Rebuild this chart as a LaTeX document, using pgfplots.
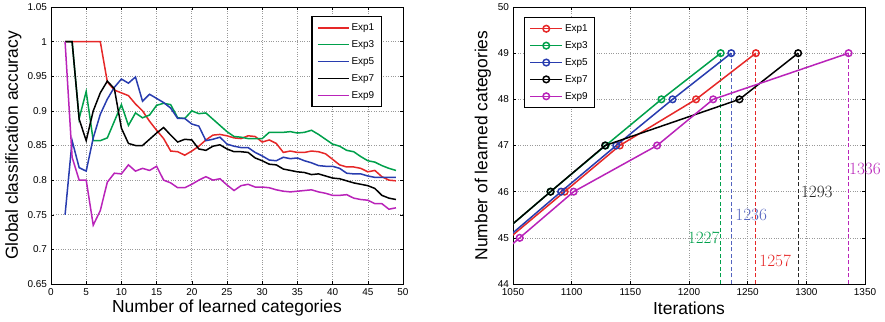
\documentclass[border=0pt]{standalone}
\usepackage{pgfplots}
\pgfplotsset{compat=1.18}
\usepackage{pgfplotstable}
\usepackage{fontspec}
\setmainfont{Liberation Sans}
\definecolor{cR}{RGB}{230,40,40}
\definecolor{cG}{RGB}{0,160,75}
\definecolor{cB}{RGB}{40,60,175}
\definecolor{cK}{RGB}{0,0,0}
\definecolor{cM}{RGB}{185,35,185}

\pgfplotstableread{
x e1 e3 e5 e7 e9
2 1.000 1.000 0.750 1.000 1.000
3 1.000 1.000 0.857 1.000 0.833
4 1.000 0.889 0.818 0.888 0.800
5 1.000 0.928 0.813 0.857 0.800
6 1.000 0.857 0.861 0.900 0.735
7 1.000 0.857 0.895 0.926 0.756
8 0.942 0.861 0.917 0.943 0.797
9 0.930 0.885 0.934 0.932 0.810
10 0.926 0.909 0.946 0.875 0.809
11 0.922 0.879 0.940 0.853 0.822
12 0.910 0.897 0.949 0.850 0.813
13 0.900 0.890 0.914 0.850 0.817
14 0.885 0.894 0.924 0.859 0.814
15 0.872 0.908 0.918 0.868 0.820
16 0.860 0.911 0.912 0.876 0.800
17 0.842 0.909 0.904 0.865 0.796
18 0.841 0.890 0.889 0.855 0.789
19 0.836 0.889 0.889 0.859 0.789
20 0.842 0.900 0.881 0.858 0.794
21 0.849 0.896 0.878 0.845 0.800
22 0.858 0.897 0.857 0.843 0.805
23 0.865 0.888 0.859 0.849 0.800
24 0.866 0.879 0.862 0.851 0.802
25 0.864 0.870 0.852 0.845 0.793
26 0.861 0.863 0.849 0.841 0.785
27 0.860 0.862 0.847 0.841 0.792
28 0.864 0.860 0.847 0.840 0.794
29 0.863 0.860 0.840 0.832 0.790
30 0.855 0.860 0.835 0.828 0.790
31 0.858 0.869 0.829 0.823 0.789
32 0.853 0.869 0.828 0.822 0.786
33 0.840 0.869 0.833 0.816 0.784
34 0.842 0.870 0.831 0.814 0.783
35 0.840 0.868 0.832 0.812 0.784
36 0.840 0.869 0.828 0.811 0.785
37 0.842 0.872 0.825 0.808 0.786
38 0.841 0.866 0.821 0.809 0.783
39 0.838 0.859 0.820 0.806 0.781
40 0.830 0.852 0.820 0.803 0.778
41 0.822 0.849 0.817 0.802 0.778
42 0.819 0.843 0.810 0.799 0.779
43 0.819 0.841 0.809 0.796 0.774
44 0.817 0.834 0.809 0.794 0.772
45 0.812 0.828 0.806 0.792 0.771
46 0.814 0.826 0.804 0.788 0.766
47 0.805 0.821 0.804 0.778 0.766
48 0.800 0.817 0.804 0.774 0.758
49 0.799 0.814 0.804 0.772 0.760
}\acc

\pgfplotsset{
  mystyle/.style={
    scale only axis, width=352bp, height=277bp,
    axis line style={line width=0.6bp},
    tick style={black, line width=0.5bp},
    major tick length=3bp,
    tick align=inside,
    xmajorgrids, ymajorgrids,
    grid style={dotted, gray!80, line width=0.6bp},
    tick label style={font=\fontsize{10}{12}\selectfont},
    xticklabel style={yshift=-1.5bp},
    yticklabel style={xshift=-0.5bp},
    /pgf/number format/assume math mode=true,
    /pgf/number format/1000 sep={},
    legend cell align=left,
    every axis plot/.append style={line width=1.5bp},
    legend style={draw=black, line width=1.2bp, font=\fontsize{10}{12}\selectfont,
      inner xsep=5bp, inner ysep=5bp, row sep=4.5bp,
      nodes={inner sep=2bp}},
  }
}

\begin{document}
\begin{tikzpicture}
\useasboundingbox (-51bp,-38bp) rectangle (834bp,284bp);
\begin{axis}[mystyle,
  at={(0,0)}, anchor=south west,
  xmin=0, xmax=50, ymin=0.65, ymax=1.05,
  xtick={0,5,...,50}, ytick={0.65,0.7,0.75,0.8,0.85,0.9,0.95,1,1.05},
  yticklabels={0.65,0.7,0.75,0.8,0.85,0.9,0.95,1,1.05},
  xlabel={Number of learned categories},
  ylabel={Global classification accuracy},
  every axis x label/.style={at={(axis description cs:0.5,-0.087)}, anchor=center, font=\fontsize{17.5}{20}\selectfont},
  every axis y label/.style={at={(axis description cs:-0.107,0.5)}, anchor=center, rotate=90, font=\fontsize{17.5}{20}\selectfont},
  legend image code/.code={\draw[#1] (0bp,0bp) -- (31bp,0bp);},
  legend style={at={(rel axis cs:0.94,0.9675)}, anchor=north east},
]
\addplot[cR, no marks] table[x=x, y=e1] {\acc};
\addplot[cG, no marks] table[x=x, y=e3] {\acc};
\addplot[cB, no marks] table[x=x, y=e5] {\acc};
\addplot[cK, no marks] table[x=x, y=e7] {\acc};
\addplot[cM, no marks] table[x=x, y=e9] {\acc};
\legend{Exp1,Exp3,Exp5,Exp7,Exp9}
\end{axis}

\begin{axis}[mystyle,
  at={(462bp,0)}, anchor=south west,
  clip mode=individual,
  xmin=1050, xmax=1350, ymin=44, ymax=50,
  xtick={1050,1100,...,1350}, ytick={44,...,50},
  xlabel={Iterations},
  ylabel={Number of learned categories},
  every axis x label/.style={at={(axis description cs:0.5,-0.087)}, anchor=center, font=\fontsize{17.5}{20}\selectfont},
  every axis y label/.style={at={(axis description cs:-0.0855,0.5)}, anchor=center, rotate=90, font=\fontsize{17.5}{20}\selectfont},
  legend image code/.code={\draw[mark repeat=2, mark phase=2, #1] plot coordinates {(0bp,0bp) (16bp,0bp) (32bp,0bp)};},
  legend style={at={(rel axis cs:0.031,0.964)}, anchor=north west},
  every mark/.append style={solid, line width=1.3bp},
  mark size=3.3bp,
]
% leading segments that start outside the axis
\addplot[cR, no marks, forget plot] coordinates {(1047,45) (1094,46)};
\addplot[cG, no marks, forget plot] coordinates {(1036,45) (1082,46)};
\addplot[cB, no marks, forget plot] coordinates {(1045,45) (1091,46)};
\addplot[cK, no marks, forget plot] coordinates {(1036,45) (1082,46)};
\addplot[cM, no marks, forget plot] coordinates {(1010,44) (1055.7,45)};
% dashed markers of final iteration
\addplot[cG, dash pattern=on 4bp off 2.5bp, line width=1bp, forget plot] coordinates {(1227,44) (1227,49)};
\addplot[cB!80, dash pattern=on 4bp off 2.5bp, line width=1bp, forget plot] coordinates {(1236,44) (1236,49)};
\addplot[cR, dash pattern=on 4bp off 2.5bp, line width=1bp, forget plot] coordinates {(1257,44) (1257,49)};
\addplot[cK!85, dash pattern=on 4bp off 2.5bp, line width=1bp, forget plot] coordinates {(1293,44) (1293,49)};
\addplot[cM, dash pattern=on 4bp off 2.5bp, line width=1bp, forget plot] coordinates {(1336,44) (1336,49)};
% main series
\addplot[cR, mark=o] coordinates {(1094,46) (1141,47) (1206,48) (1257,49)};
\addplot[cG, mark=o] coordinates {(1082,46) (1129,47) (1176.5,48) (1227,49)};
\addplot[cB, mark=o] coordinates {(1091,46) (1138,47) (1186,48) (1236,49)};
\addplot[cK, mark=o] coordinates {(1082,46) (1128.5,47) (1243,48) (1293,49)};
\addplot[cM, mark=o] coordinates {(1055.7,45) (1101.7,46) (1172.8,47) (1220.6,48) (1336,49)};
\legend{Exp1,Exp3,Exp5,Exp7,Exp9}
\node[anchor=east, text=cG, inner sep=1bp, font=\fontsize{16}{18}\selectfont] at (axis cs:1227,45) {$1227$};
\node[anchor=west, text=cB!80, inner sep=1bp, font=\fontsize{16}{18}\selectfont] at (axis cs:1238.5,45.5) {$1236$};
\node[anchor=west, text=cR, inner sep=1bp, font=\fontsize{16}{18}\selectfont] at (axis cs:1259,44.5) {$1257$};
\node[anchor=west, text=cK!85, inner sep=1bp, font=\fontsize{16}{18}\selectfont] at (axis cs:1294.5,46) {$1293$};
\node[anchor=west, text=cM, inner sep=1bp, font=\fontsize{16}{18}\selectfont] at (axis cs:1335.5,46.5) {$1336$};
\end{axis}
\end{tikzpicture}
\end{document}
